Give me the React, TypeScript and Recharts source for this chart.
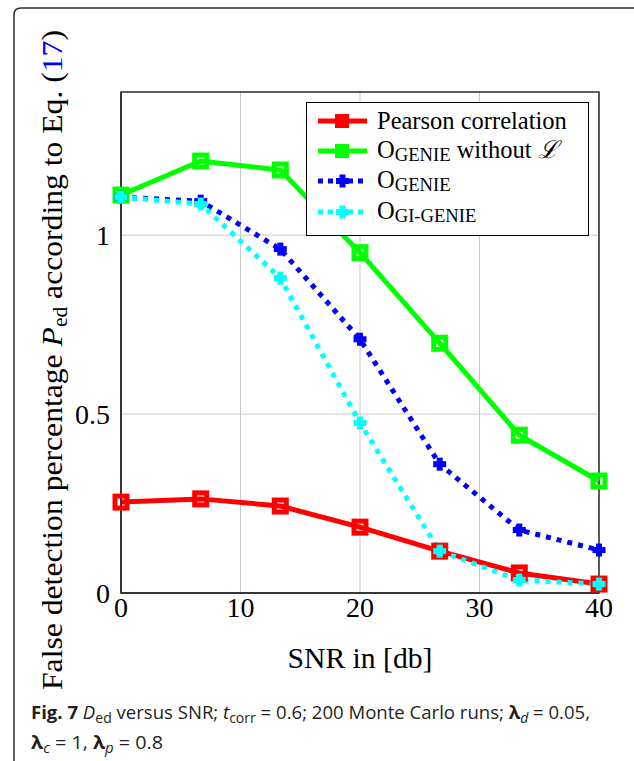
import { LineChart, Line, XAxis, YAxis, CartesianGrid, Legend, ReferenceArea } from "recharts";

const snr = [0, 6.67, 13.33, 20, 26.67, 33.33, 40];
const pearson = [0.254, 0.263, 0.243, 0.184, 0.117, 0.056, 0.025];
const genieNoL = [1.112, 1.207, 1.182, 0.951, 0.698, 0.441, 0.313];
const genie = [1.106, 1.095, 0.961, 0.709, 0.36, 0.176, 0.12];
const giGenie = [1.106, 1.087, 0.88, 0.475, 0.117, 0.036, 0.025];
const xTicks = [0, 10, 20, 30, 40];
const yTicks = [0, 0.5, 1];

const data = snr.map((x, i) => ({
  snr: x,
  pearson: pearson[i],
  genieNoL: genieNoL[i],
  genie: genie[i],
  giGenie: giGenie[i],
}));

const SERIF = "'Liberation Serif', 'DejaVu Serif', serif";
const SANS = "'Open Sans', 'Noto Sans', sans-serif";

const RED = "#ff0000";
const GREEN = "#00ff00";
const BLUE = "#0000ff";
const CYAN = "#00ffff";

// open square mark (pgfplots style)
const squareDot = (color: string) => (props: any) => {
  const { cx, cy, index } = props;
  if (cx == null || cy == null) return <g key={index} />;
  return (
    <rect
      key={index}
      x={cx - 6}
      y={cy - 6}
      width={12}
      height={12}
      fill="none"
      stroke={color}
      strokeWidth={5}
    />
  );
};

// thick plus mark
const plusDot = (color: string) => (props: any) => {
  const { cx, cy, index } = props;
  if (cx == null || cy == null) return <g key={index} />;
  return (
    <g key={index} fill={color}>
      <rect x={cx - 6.5} y={cy - 3} width={13} height={6} />
      <rect x={cx - 3} y={cy - 6.5} width={6} height={13} />
    </g>
  );
};

const Caps = ({ children }: { children: string }) => (
  <span style={{ fontSize: "0.76em", position: "relative", top: 3 }}>{children}</span>
);

const legendRows = [
  { color: RED, dashed: false, label: <>Pearson correlation</> },
  {
    color: GREEN,
    dashed: false,
    label: (
      <>
        O<Caps>GENIE</Caps> without <span style={{ fontStyle: "italic" }}>ℒ</span>
      </>
    ),
  },
  { color: BLUE, dashed: true, label: <>O<Caps>GENIE</Caps></> },
  { color: CYAN, dashed: true, label: <>O<Caps>GI-GENIE</Caps></> },
];

const LegendBox = () => (
  <div
    style={{
      width: 281,
      height: 129,
      border: "1.5px solid #000",
      background: "#fff",
      boxSizing: "content-box",
      paddingTop: 3,
    }}
  >
    {legendRows.map((r, i) => (
      <div key={i} style={{ display: "flex", alignItems: "center", height: 30.2 }}>
        <svg width={70} height={20} style={{ flex: "none" }}>
          <line
            x1={11}
            y1={10}
            x2={60}
            y2={10}
            stroke={r.color}
            strokeWidth={5}
            strokeDasharray={r.dashed ? "5 5" : undefined}
          />
          {r.dashed ? (
            <g fill={r.color}>
              <rect x={29} y={7} width={13} height={6} />
              <rect x={32.5} y={3.5} width={6} height={13} />
            </g>
          ) : (
            <rect x={29} y={4} width={12} height={12} fill={r.color} stroke={r.color} strokeWidth={2} />
          )}
        </svg>
        <span style={{ fontFamily: SERIF, fontSize: 24.5, color: "#000", whiteSpace: "nowrap", lineHeight: "24px" }}>
          {r.label}
        </span>
      </div>
    ))}
  </div>
);

const YLabel = () => (
  <text
    x={0}
    y={0}
    transform="translate(62, 360) rotate(-90)"
    textAnchor="middle"
    fontFamily={SERIF}
    fontSize={29.5}
    fill="#000"
    textLength={660}
    lengthAdjust="spacingAndGlyphs"
  >
    False detection percentage{" "}
    <tspan fontStyle="italic">P</tspan>
    <tspan fontSize={20} dy={5}>ed</tspan>
    <tspan dy={-5}> according to Eq. (</tspan>
    <tspan fill={BLUE}>17</tspan>)
  </text>
);

const XLabel = () => (
  <text x={360} y={668} textAnchor="middle" fontFamily={SERIF} fontSize={29} fill="#000" textLength={145} lengthAdjust="spacingAndGlyphs">
    SNR in [db]
  </text>
);

export default function App() {
  return (
    <div style={{ position: "absolute", left: 0, top: 0, width: 634, height: 761, background: "#fff" }}>
      <svg
        width={634}
        height={761}
        style={{ position: "absolute", left: 0, top: 0 }}
      >
        <path d="M14 761 L14 15 Q14 8 21 8 L634 8" fill="none" stroke="#2b2b2b" strokeWidth={1.5} />
        <text x={31} y={719} fontFamily={SANS} fontSize={18.5} fill="#231f20" textLength={559} lengthAdjust="spacingAndGlyphs">
          <tspan fontWeight="bold">Fig. 7</tspan> <tspan fontStyle="italic">D</tspan>
          <tspan fontSize={14} dy={4}>ed</tspan>
          <tspan dy={-4}> versus SNR; </tspan>
          <tspan fontStyle="italic">t</tspan>
          <tspan fontSize={14} dy={4}>corr</tspan>
          <tspan dy={-4}> = 0.6; 200 Monte Carlo runs; </tspan>
          <tspan fontWeight="bold">λ</tspan>
          <tspan fontSize={14} dy={4} fontStyle="italic">d</tspan>
          <tspan dy={-4}> = 0.05,</tspan>
        </text>
        <text x={31} y={749} fontFamily={SANS} fontSize={18.5} fill="#231f20" textLength={132} lengthAdjust="spacingAndGlyphs">
          <tspan fontWeight="bold">λ</tspan>
          <tspan fontSize={14} dy={4} fontStyle="italic">c</tspan>
          <tspan dy={-4}> = 1, </tspan>
          <tspan fontWeight="bold">λ</tspan>
          <tspan fontSize={14} dy={4} fontStyle="italic">p</tspan>
          <tspan dy={-4}> = 0.8</tspan>
        </text>
      </svg>
      <div style={{ position: "absolute", left: 0, top: 0 }}>
        <LineChart width={634} height={761} data={data} margin={{ top: 92, right: 35, left: 0, bottom: 0 }}>
          <CartesianGrid stroke="#c8c8c8" strokeWidth={1} horizontalValues={yTicks} verticalValues={xTicks} />
          <XAxis
            dataKey="snr"
            type="number"
            domain={[0, 40]}
            ticks={xTicks}
            height={168}
            tickLine={false}
            tickSize={0}
            tickMargin={4}
            axisLine={{ stroke: "#2b2b2b", strokeWidth: 1.5 }}
            tick={{ fontFamily: SERIF, fontSize: 28, fill: "#000" }}
            label={<XLabel />}
          />
          <YAxis
            type="number"
            domain={[0, 1.4]}
            ticks={yTicks}
            width={121}
            tickLine={false}
            tickSize={0}
            tickMargin={11}
            axisLine={{ stroke: "#2b2b2b", strokeWidth: 1.5 }}
            tick={{ fontFamily: SERIF, fontSize: 28, fill: "#000" }}
            label={<YLabel />}
          />
          <ReferenceArea x1={0} x2={40} y1={0} y2={1.4} fill="none" stroke="#2b2b2b" strokeWidth={1.5} ifOverflow="visible" />
          <Line
            dataKey="pearson"
            stroke={RED}
            strokeWidth={5}
            dot={squareDot(RED)}
            activeDot={false}
            isAnimationActive={false}
          />
          <Line
            dataKey="genieNoL"
            stroke={GREEN}
            strokeWidth={5}
            dot={squareDot(GREEN)}
            activeDot={false}
            isAnimationActive={false}
          />
          <Line
            dataKey="genie"
            stroke={BLUE}
            strokeWidth={5}
            strokeDasharray="5 6"
            dot={plusDot(BLUE)}
            activeDot={false}
            isAnimationActive={false}
          />
          <Line
            dataKey="giGenie"
            stroke={CYAN}
            strokeWidth={5}
            strokeDasharray="5 6"
            dot={plusDot(CYAN)}
            activeDot={false}
            isAnimationActive={false}
          />
          <Legend
            layout="horizontal"
            align="center"
            verticalAlign="middle"
            content={<LegendBox />}
            wrapperStyle={{ position: "absolute", left: 306, top: 102, width: "auto", height: "auto" }}
          />
        </LineChart>
      </div>
    </div>
  );
}
